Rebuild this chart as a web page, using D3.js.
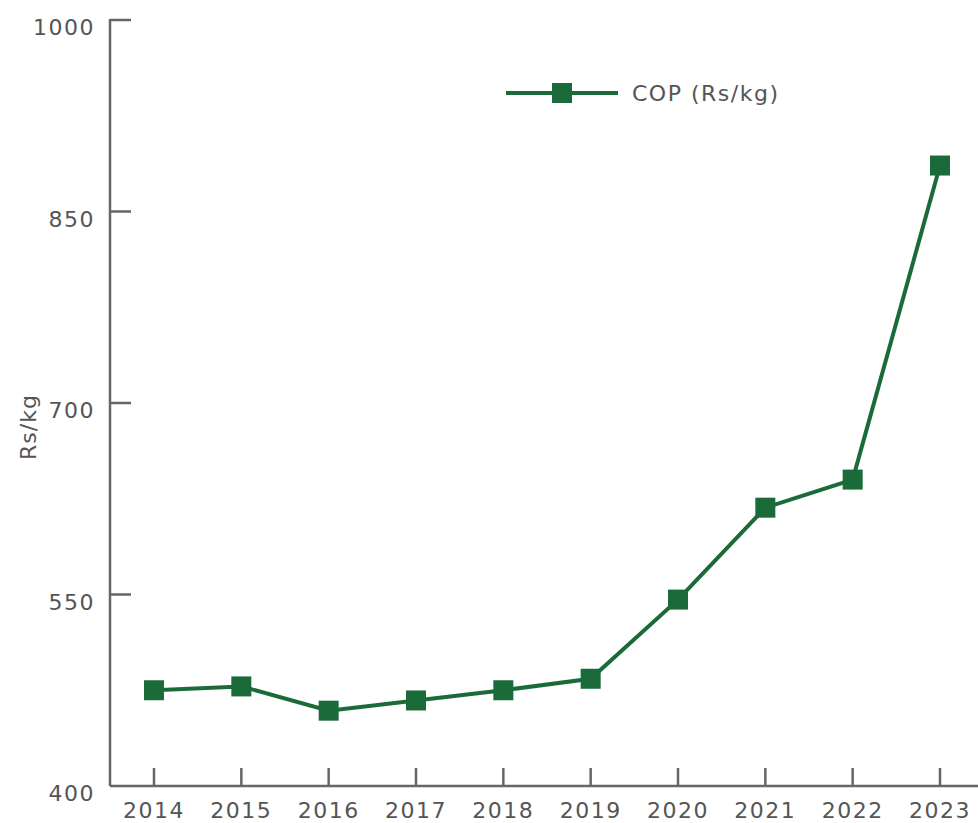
<!DOCTYPE html>
<html><head><meta charset="utf-8">
<script src="https://cdn.jsdelivr.net/npm/d3@7"></script>
<style>body{margin:0;background:#fff}svg{display:block}</style>
</head><body>
<script>
const years = ["2014","2015","2016","2017","2018","2019","2020","2021","2022","2023"];
const copValues = [475, 478, 459, 467, 475, 484, 546, 618, 640, 886];
const yTicks = [400, 550, 700, 850, 1000];
const seriesName = "COP (Rs/kg)";
const yLabel = "Rs/kg";

const W = 978, H = 823;
const color = "#1b6b3a";
const axisColor = "#666";
const textColor = "#555";
const font = "DejaVu Sans, sans-serif";
const ls = 1.5;

const svg = d3.select("body").append("svg").attr("width", W).attr("height", H);

const x = d3.scalePoint().domain(years).range([154, 940]);
const y = d3.scaleLinear().domain([400, 1000]).range([786, 20]);

// axes lines
svg.append("line").attr("x1", 110).attr("x2", 110).attr("y1", y(1000)-1).attr("y2", y(400))
  .attr("stroke", axisColor).attr("stroke-width", 2.5);
svg.append("line").attr("x1", 110).attr("x2", W).attr("y1", y(400)).attr("y2", y(400))
  .attr("stroke", axisColor).attr("stroke-width", 2.5);

// y ticks (inward)
const yg = svg.append("g");
yg.selectAll("line").data(yTicks.filter(d => d !== 400)).join("line")
  .attr("x1", 110).attr("x2", 131).attr("y1", d => y(d)).attr("y2", d => y(d))
  .attr("stroke", axisColor).attr("stroke-width", 2.5);
yg.selectAll("text").data(yTicks).join("text")
  .attr("x", 95).attr("y", d => y(d) + 15)
  .attr("text-anchor", "end").attr("font-family", font).attr("font-size", 22)
  .attr("letter-spacing", ls).attr("fill", textColor).text(d => d);

// x ticks (inward)
const xg = svg.append("g");
xg.selectAll("line").data(years).join("line")
  .attr("x1", d => x(d)).attr("x2", d => x(d)).attr("y1", y(400) - 18).attr("y2", y(400))
  .attr("stroke", axisColor).attr("stroke-width", 2.5);
xg.selectAll("text").data(years).join("text")
  .attr("x", d => x(d)).attr("y", y(400) + 32)
  .attr("text-anchor", "middle").attr("font-family", font).attr("font-size", 22)
  .attr("letter-spacing", ls).attr("fill", textColor).text(d => d);

// y label
svg.append("text").attr("transform", `translate(36,427) rotate(-90)`)
  .attr("text-anchor", "middle").attr("font-family", font).attr("font-size", 22)
  .attr("letter-spacing", 1).attr("fill", textColor).text(yLabel);

// series
const data = years.map((yr, i) => ({yr, v: copValues[i]}));
svg.append("path").datum(data)
  .attr("fill", "none").attr("stroke", color).attr("stroke-width", 4)
  .attr("d", d3.line().x(d => x(d.yr)).y(d => y(d.v)));
const ms = 20;
svg.selectAll("rect.m").data(data).join("rect").attr("class", "m")
  .attr("x", d => x(d.yr) - ms/2).attr("y", d => y(d.v) - ms/2)
  .attr("width", ms).attr("height", ms).attr("fill", color);

// legend
const lg = svg.append("g");
lg.append("line").attr("x1", 506).attr("x2", 618).attr("y1", 93).attr("y2", 93)
  .attr("stroke", color).attr("stroke-width", 4);
lg.append("rect").attr("x", 562 - ms/2).attr("y", 93 - ms/2).attr("width", ms).attr("height", ms).attr("fill", color);
lg.append("text").attr("x", 632).attr("y", 101).attr("font-family", font).attr("font-size", 22)
  .attr("letter-spacing", ls).attr("fill", textColor).text(seriesName);
</script>
</body></html>
